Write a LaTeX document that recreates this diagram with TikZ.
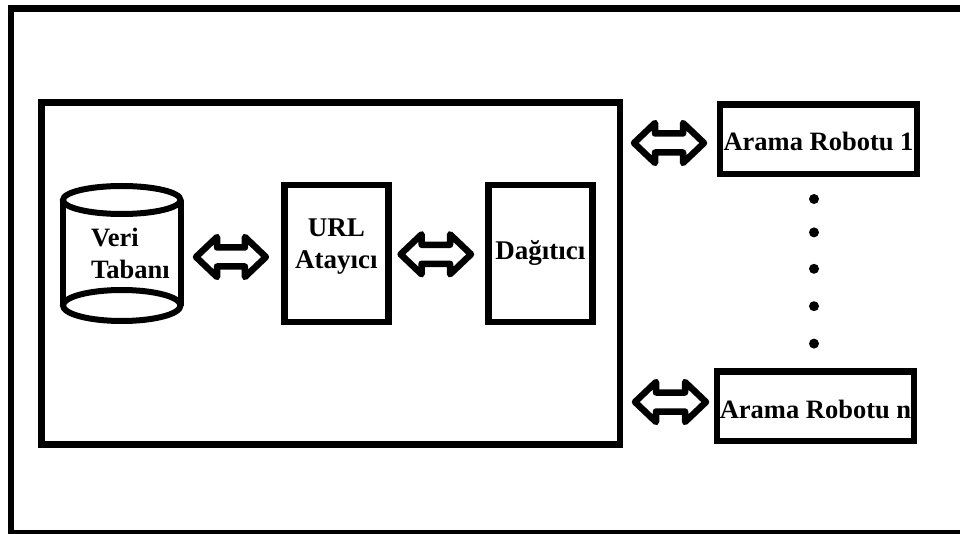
\documentclass[tikz,border=0pt]{standalone}
\usepackage{fontspec}
\setmainfont{Liberation Serif}
\usepackage{tikz}
\usetikzlibrary{calc,positioning}

\begin{document}
\begin{tikzpicture}[
  x=1pt, y=-1pt,
  framebox/.style={draw, line width=6.5pt, outer sep=0pt, inner sep=0pt, align=center,
                   font=\fontsize{27}{32}\selectfont\bfseries},
  unitbox/.style={framebox, minimum width=104pt, minimum height=137pt},
  robotbox/.style={framebox, minimum width=197pt, minimum height=69.5pt,
                   font=\fontsize{26.5}{32}\selectfont\bfseries},
  dbbody/.style={outer sep=0pt, inner sep=0pt, minimum width=117.5pt, minimum height=135pt,
                 align=left, font=\fontsize{26.5}{32}\selectfont\bfseries},
  dbline/.style={line width=6pt},
  dotmark/.style={circle, fill, inner sep=0pt, minimum size=10pt},
  hollowarr/.style n args={3}{line width=6.5pt, line join=round, to path={
    let \p1=($(\tikztostart.east |- \tikztotarget.west)+(#1,#3)$),
        \p2=($(\tikztotarget.west)+(-#2,#3)$) in
    (\p1) -- ++(21,-20) -- ++(0,10.5) -- (\x2-21pt,\y1+9.5pt) -- ++(0,-10.5)
    -- (\p2) -- ++(-21,20) -- ++(0,-10.5) -- (\x1+21pt,\y1-9.5pt) -- ++(0,10.5) -- cycle}}
]
\useasboundingbox (0,0) rectangle (960,534);
% outer frame, open on the right
\coordinate (ftop) at (960,8.5);
\coordinate (fcornera) at (11,8.5);
\coordinate (fcornerb) at (11,533.5);
\coordinate (fbot) at (960,533.5);
\draw[line width=6.5pt] (ftop) -- (fcornera) -- (fcornerb) -- (fbot);

\node[framebox, minimum width=578.5pt, minimum height=342pt] (server) at (330.75,273.5) {};
\node[dbbody] (db) at (121.75,253.5) {\hspace*{17.5pt}Veri\\\hspace*{17.5pt}Tabanı};
\node[unitbox, text depth=20pt] (url) at (336.3,253.4) {URL\\Atayıcı};
\node[unitbox, right=100pt of url] (dist) {Dağıtıcı};
\node[robotbox, text height=22pt] (rob1) at (818.5,139.5) {Arama Robotu 1};
\node[robotbox, text height=26pt] (robn) at (815.5,406) {Arama Robotu n};
\node[dotmark] (dot1) at (814,199) {};
\node[dotmark, below=23pt of dot1] (dot2) {};
\node[dotmark, below=26pt of dot2] (dot3) {};
\node[dotmark, below=27pt of dot3] (dot4) {};
\node[dotmark, below=27pt of dot4] (dot5) {};

% database drum
\draw[dbline] ($(db.north)+(0,14)$) ellipse[x radius=58.75pt, y radius=14pt];
\draw[dbline] ($(db.south)+(0,-15.5)$) ellipse[x radius=58.75pt, y radius=15.5pt];
\draw[dbline] ($(db.north west)+(0,14)$) -- ($(db.south west)+(0,-15.5)$);
\draw[dbline] ($(db.north east)+(0,14)$) -- ($(db.south east)+(0,-15.5)$);

\draw[hollowarr={15.5}{18.4}{3.6}] (db) to (url);
\draw[hollowarr={12.3}{17.3}{0.9}] (url) to (dist);
\draw[hollowarr={14}{16}{3.5}] (server) to (rob1);
\draw[hollowarr={15}{11}{-4}] (server) to (robn);
\end{tikzpicture}
\end{document}
